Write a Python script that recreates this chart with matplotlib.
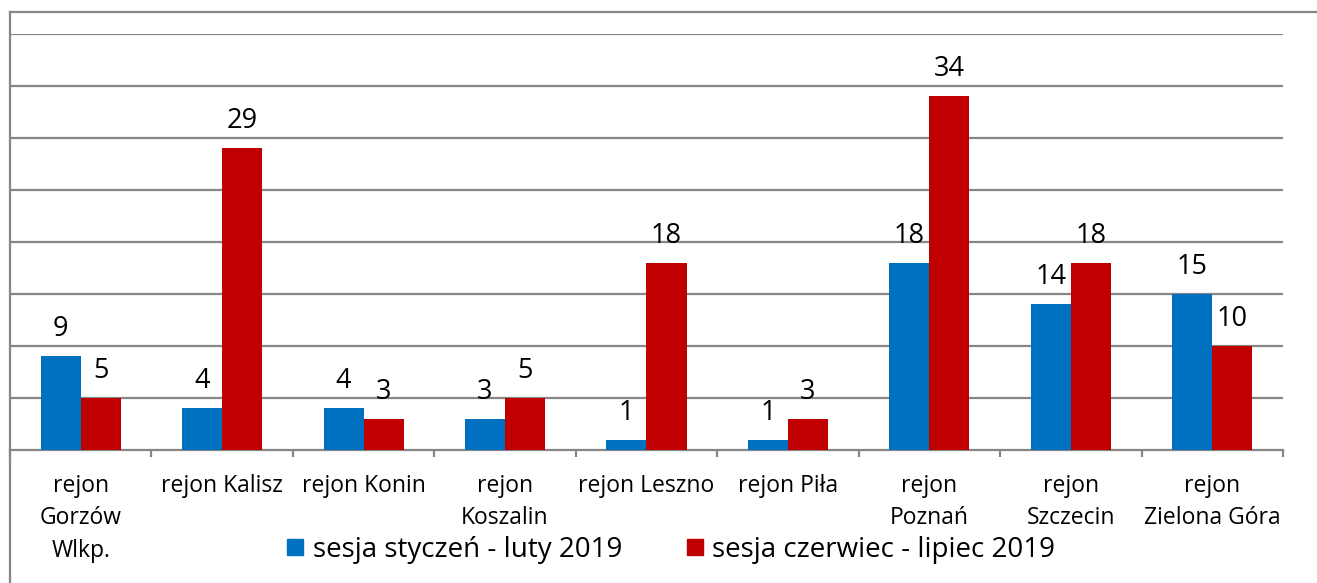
import matplotlib
matplotlib.use("Agg")
import matplotlib.pyplot as plt
from matplotlib.lines import Line2D
from matplotlib.patches import Rectangle
import numpy as np

categories = ["rejon\nGorzów\nWlkp.", "rejon Kalisz", "rejon Konin", "rejon\nKoszalin",
              "rejon Leszno", "rejon Piła", "rejon\nPoznań", "rejon\nSzczecin",
              "rejon\nZielona Góra"]
series_names = ["sesja styczeń - luty 2019", "sesja czerwiec - lipiec 2019"]
jan_feb = [9, 4, 4, 3, 1, 1, 18, 14, 15]
jun_jul = [5, 29, 3, 5, 18, 3, 34, 18, 10]

BLUE = "#0070C0"
RED = "#C00000"
GRID = "#868686"
W, H = 1317, 583

plt.rcParams['font.family'] = ['Open Sans', 'DejaVu Sans']

fig = plt.figure(figsize=(W / 100, H / 100), dpi=100)
AX_TOP, AX_BOT = 34, 450
ax = fig.add_axes([10 / W, 1 - AX_BOT / H, (1283 - 10) / W, (AX_BOT - AX_TOP) / H])

x = np.arange(len(categories))
bw = 0.283
b1 = ax.bar(x - bw / 2, jan_feb, bw, color=BLUE, zorder=3)
b2 = ax.bar(x + bw / 2, jun_jul, bw, color=RED, zorder=3)

for bars, vals in ((b1, jan_feb), (b2, jun_jul)):
    for r, v in zip(bars, vals):
        ax.annotate(str(v), (r.get_x() + r.get_width() / 2, r.get_height()),
                    xytext=(0, 20), textcoords="offset pixels", ha="center",
                    va="baseline", fontsize=19.5, color="black")

ax.set_xlim(-0.5, len(categories) - 0.5)
ax.set_ylim(0, 40)
ax.set_yticks(np.arange(5, 41, 5))
ax.yaxis.grid(True, color=GRID, linewidth=1.6, zorder=0)
ax.tick_params(axis="y", left=False, labelleft=False)

ax.set_xticks(np.arange(-0.5, len(categories), 1.0))
ax.set_xticklabels([])
ax.tick_params(axis="x", direction="out", length=5, width=1.6, color=GRID)
axh = AX_BOT - AX_TOP
for i, c in enumerate(categories):
    for k, line in enumerate(c.split("\n")):
        base = 492 + 32.5 * k
        ax.text(i, -(base - AX_BOT) / axh, line, transform=ax.get_xaxis_transform(),
                ha="center", va="baseline", fontsize=16.5)

for s in ("top", "right", "left"):
    ax.spines[s].set_visible(False)
ax.spines["bottom"].set_color(GRID)
ax.spines["bottom"].set_linewidth(1.6)

# outer frame lines
fig.add_artist(Line2D([10 / W, 10 / W], [0, 1 - 12 / H], color=GRID, linewidth=1.6))
fig.add_artist(Line2D([10 / W, 1], [1 - 12 / H, 1 - 12 / H], color=GRID, linewidth=1.6))

# legend
for sx, tx, col, name in ((287, 313, BLUE, series_names[0]), (687, 712, RED, series_names[1])):
    fig.add_artist(Rectangle((sx / W, 1 - 555 / H), 16 / W, 16 / H, color=col,
                             transform=fig.transFigure))
    fig.text(tx / W, 1 - 557 / H, name, ha="left", va="baseline", fontsize=20)

fig.savefig("out.png", dpi=100)
